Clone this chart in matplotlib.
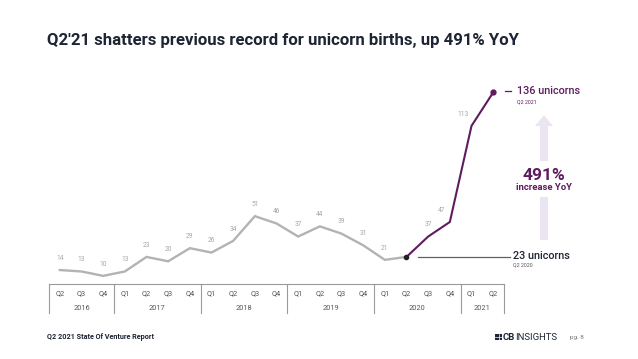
import matplotlib.pyplot as plt
from matplotlib.patches import FancyArrow, Rectangle

plt.rcParams['font.family'] = ['Roboto', 'DejaVu Sans']

quarters = ['Q2', 'Q3', 'Q4',
            'Q1', 'Q2', 'Q3', 'Q4',
            'Q1', 'Q2', 'Q3', 'Q4',
            'Q1', 'Q2', 'Q3', 'Q4',
            'Q1', 'Q2', 'Q3', 'Q4',
            'Q1', 'Q2']
years = ['2016', '2017', '2018', '2019', '2020', '2021']
year_counts = [3, 4, 4, 4, 4, 2]
unicorns = [14, 13, 10, 13, 23, 20, 29, 26, 34, 51, 46, 37, 44, 39, 31, 21, 23, 37, 47, 113, 136]
split = 16  # Q2 2020, start of purple part

purple = '#5f1b5f'
gray = '#b3b3b3'
navy = '#1d2433'

fig = plt.figure(figsize=(6.38, 3.59), dpi=100)

# main axes: x = quarter index, y = unicorn count
W, H = 638, 359
top_px, bot_px = 86.6, 313.7
ax = fig.add_axes([49 / W, 1 - bot_px / H, 455 / W, (bot_px - top_px) / H])
ax.set_xlim(-0.5, len(unicorns) - 0.5)
ax.set_ylim(-16, 140)
ax.axis('off')

x = list(range(len(unicorns)))
ax.plot(x[:split + 1], unicorns[:split + 1], color=gray, lw=1.7, solid_joinstyle='miter')
ax.plot(x[split:], unicorns[split:], color=purple, lw=1.5)
ax.plot(x[split], unicorns[split], 'o', color='#222222', ms=3, zorder=5)
ax.plot(x[-1], unicorns[-1], 'o', color=purple, ms=3.5, zorder=5)

# value labels (the two called-out points get their own callouts instead)
for i, v in enumerate(unicorns):
    if i in (split, len(unicorns) - 1):
        continue
    dx = -6 if v in (47, 113) else 0
    ax.annotate(str(v), (i, v), xytext=(dx, 6), textcoords='offset points',
                ha='center', va='bottom', fontsize=4.8, color='#a6a6a6')

# quarter / year table
ax.plot([-0.5, len(unicorns) - 0.5], [4.5, 4.5], color='#9a9a9a', lw=0.8, clip_on=False)
edge = -0.5
ax.plot([edge, edge], [4.5, -15.5], color='#9a9a9a', lw=0.8, clip_on=False)
for yr, n in zip(years, year_counts):
    ax.text(edge + n / 2, -12.6, yr, ha='center', va='center', fontsize=5.3, color='#555555')
    edge += n
    ax.plot([edge, edge], [4.5, -15.5], color='#9a9a9a', lw=0.8, clip_on=False)
for i, q in enumerate(quarters):
    ax.text(i, -2.4, q, ha='center', va='center', fontsize=5.3, color='#555555')

# overlays in pixel coordinates for titles and callouts
ov = fig.add_axes([0, 0, 1, 1], zorder=-1)
ov.set_xlim(0, W)
ov.set_ylim(H, 0)
ov.axis('off')
ov2 = fig.add_axes([0, 0, 1, 1], zorder=10)
ov2.set_xlim(0, W)
ov2.set_ylim(H, 0)
ov2.axis('off')

ov2.text(47, 40, "Q2'21 shatters previous record for unicorn births, up 491% YoY",
         fontsize=12.1, fontweight='bold', color=navy, va='center', ha='left')

# arrow (drawn behind)
ov.add_patch(Rectangle((540, 197), 8, 43, color='#ebe5f1', lw=0))
ov.add_patch(FancyArrow(544, 161, 0, -46, width=8, head_width=18, head_length=11,
                        length_includes_head=True, color='#ebe5f1', lw=0))
ov2.text(544, 175, '491%', fontsize=12.5, fontweight='bold', color=purple, ha='center', va='center')
ov2.text(544, 188, 'increase YoY', fontsize=6.8, fontweight='bold', color=purple, ha='center', va='center')

# 136 callout
ov2.plot([505, 511], [91, 91], color=purple, lw=0.9)
ov2.text(517, 91, '136 unicorns', fontsize=7.8, fontweight='medium', color=purple, va='center')
ov2.text(517, 102, 'Q2 2021', fontsize=3.8, color=purple, va='center')

# 23 callout
ov2.plot([418, 510], [257, 257], color='#5a6266', lw=0.9)
ov2.text(513, 256, '23 unicorns', fontsize=7.8, fontweight='medium', color=navy, va='center')
ov2.text(513, 265, 'Q2 2020', fontsize=3.8, color='#555555', va='center')

# footer
ov2.text(47, 337, 'Q2 2021 State Of Venture Report', fontsize=5.2, fontweight='bold',
         color=navy, va='center')
ov2.add_patch(Rectangle((495, 334), 7, 6, color=navy, lw=0))
ov2.plot([498.5, 498.5], [334, 340], color='white', lw=0.5)
ov2.plot([495, 502], [337, 337], color='white', lw=0.5)
ov2.text(503, 337, 'CB', fontsize=6.8, fontweight='bold', color=navy, va='center')
ov2.text(515, 337, 'INSIGHTS', fontsize=6.8, color=navy, va='center')
ov2.text(570, 337, 'pg. 8', fontsize=4.6, color='#777777', va='center')

fig.savefig('out.png', dpi=100)
